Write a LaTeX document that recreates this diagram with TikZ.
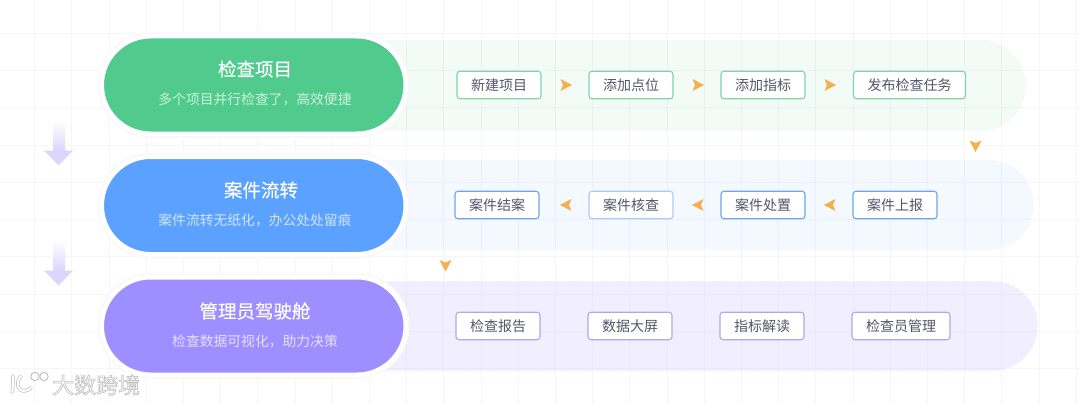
\documentclass[tikz,border=0pt]{standalone}
\usepackage{fontspec}
\setmainfont{Noto Sans CJK SC}
\usetikzlibrary{shadings,calc,fadings}
\definecolor{gridc}{HTML}{F5F6FB}
\definecolor{gA}{HTML}{50CB8D}
\definecolor{bA}{HTML}{5BA1FF}
\definecolor{pA}{HTML}{9D8FFF}
\definecolor{gL}{HTML}{7FD4A8}
\definecolor{bL}{HTML}{6FA5EE}
\definecolor{bLL}{HTML}{A9CBF6}
\definecolor{pL}{HTML}{B0A6EA}
\definecolor{oA}{HTML}{F7AE4F}
\definecolor{txt}{HTML}{55556A}
\definecolor{arrowp}{HTML}{DCD5FD}
\definecolor{wmg}{HTML}{BEBEBE}
\tikzset{
  track/.style={fill=#1,draw=none,rounded corners=45pt},
  trackedge/.style={draw=white,line width=0.9pt,dash pattern=on 3pt off 3pt,rounded corners=45pt},
  pill/.style={fill=#1,draw=white,line width=4.5pt,minimum width=304pt,minimum height=97.5pt,rounded corners=48.75pt,inner sep=0pt},
  halo/.style={draw=black!2.5,line width=8pt,rounded corners=48.75pt},
  title/.style={text=white,font=\fontsize{18.5}{20}\selectfont\addfontfeature{FakeBold=0.3}},
  sub/.style={text=white,opacity=0.72,font=\fontsize{13.8}{16}\selectfont},
  item/.style={fill=white,draw=#1,line width=1.1pt,rounded corners=3pt,minimum height=27.5pt,inner sep=0pt,text=txt,font=\fontsize{14}{16}\selectfont},
  tip/.style={fill=oA,draw=none},
  pics/orangetip/.style={code={\path[tip,rotate=#1] (-5.5,-6) -- (6,0) -- (-5.5,6) -- (-3,0) -- cycle;}},
  wmline/.style={draw=wmg,line width=3.6pt,line cap=round},
  wmfill/.style={draw=white,line width=2.2pt,line cap=round},
}
\begin{document}
\begin{tikzpicture}[x=1pt,y=-1pt]
\useasboundingbox (0,0) rectangle (1080,404);
\fill[white] (0,0) rectangle (1080,404);
\foreach \i in {0,...,28} \draw[gridc,line width=0.8pt] ({34.5+37.2*\i},0) -- ({34.5+37.2*\i},404);
\foreach \i in {0,...,10} \draw[gridc,line width=0.8pt] (0,{33+37.3*\i}) -- (1080,{33+37.3*\i});

% tracks
\path[track=gA,fill opacity=0.07] (300,40) rectangle (1026,131);
\path[track=bA,fill opacity=0.065] (300,160) rectangle (1034,250);
\path[track=pA,fill opacity=0.14] (300,281) rectangle (1038,371);
\path[trackedge] (380,40) -- (1026,40) -- (1026,131) -- (380,131);
\path[trackedge] (380,160) -- (1034,160) -- (1034,250) -- (380,250);
\path[trackedge] (380,281) -- (1038,281) -- (1038,371) -- (380,371);

% pills
\path[halo] (101.75,36.25) rectangle (405.75,133.75);
\path[halo] (101.75,156.75) rectangle (405.75,254.25);
\path[halo] (101.75,277.25) rectangle (405.75,374.75);
\node[pill=gA] (pg) at (253.75,85) {};
\node[pill=bA] (pb) at (253.75,205.5) {};
\node[pill=pA] (pp) at (253.75,326) {};
\node[title] (tg) at (255,69) {检查项目};
\node[sub] (sg) at (255,99) {多个项目并行检查了，高效便捷};
\node[title] (tb) at (261,190) {案件流转};
\node[sub] (sb) at (255,220) {案件流转无纸化，办公处处留痕};
\node[title] (tp) at (255,311) {管理员驾驶舱};
\node[sub] (sp) at (255,341) {检查数据可视化，助力决策};

% row 1
\node[item=gL,minimum width=84pt] (a1) at (499,85) {新建项目};
\node[item=gL,minimum width=84pt] (a2) at (631,85) {添加点位};
\node[item=gL,minimum width=84pt] (a3) at (763,85) {添加指标};
\node[item=gL,minimum width=112pt] (a4) at (909.5,85) {发布检查任务};
% row 2
\node[item=bL,minimum width=84pt] (b1) at (497,205) {案件结案};
\node[item=bLL,minimum width=84pt] (b2) at (631,205) {案件核查};
\node[item=bL,minimum width=84pt] (b3) at (763,205) {案件处置};
\node[item=bL,minimum width=84pt] (b4) at (895,205) {案件上报};
% row 3
\node[item=pL,minimum width=84pt] (c1) at (498,326) {检查报告};
\node[item=pL,minimum width=84pt] (c2) at (630,326) {数据大屏};
\node[item=pL,minimum width=84pt] (c3) at (762,326) {指标解读};
\node[item=pL,minimum width=98pt] (c4) at (901,326) {检查员管理};

% small arrows
\path (566,85) pic {orangetip=0};
\path (698,85) pic {orangetip=0};
\path (830,85) pic {orangetip=0};
\path (566,205) pic {orangetip=180};
\path (698,205) pic {orangetip=180};
\path (830,205) pic {orangetip=180};
\coordinate (d1) at (975.5,146);
\coordinate (d2) at (445.5,265.5);
\path (d1) pic {orangetip=-90};
\path (d2) pic {orangetip=-90};

% big arrows
\shade[top color=white,bottom color=arrowp] (53,120) rectangle (65,151);
\fill[arrowp] (44,150.5) -- (73,150.5) -- (58.5,165.5) -- cycle;
\shade[top color=white,bottom color=arrowp] (53,240) rectangle (65,271);
\fill[arrowp] (44,270.5) -- (73,270.5) -- (58.5,285.5) -- cycle;

% watermark
\node[font=\fontsize{22}{24}\selectfont,anchor=west,inner sep=0pt] (wm) at (52,385) {\special{pdf:code q 2 Tr 0.7 w 0.77 0.77 0.77 RG 1 1 1 rg}大数跨境\special{pdf:code Q}};
\coordinate (wa) at (13,376);
\coordinate (wb) at (12.5,392);
\coordinate (wc) at (21,376);
\coordinate (wd) at (31,388);
\path[wmline] (wa) -- (wb);
\path[wmline] (wc) .. controls (14,383) and (19,397) .. (wd);
\path[wmfill] (wa) -- (wb);
\path[wmfill] (wc) .. controls (14,383) and (19,397) .. (wd);
\draw[wmg,line width=0.9pt,fill=white] (35,376.5) circle (4.2);
\draw[wmg,line width=0.9pt,fill=white] (44,376.5) circle (4.2);
\end{tikzpicture}
\end{document}
